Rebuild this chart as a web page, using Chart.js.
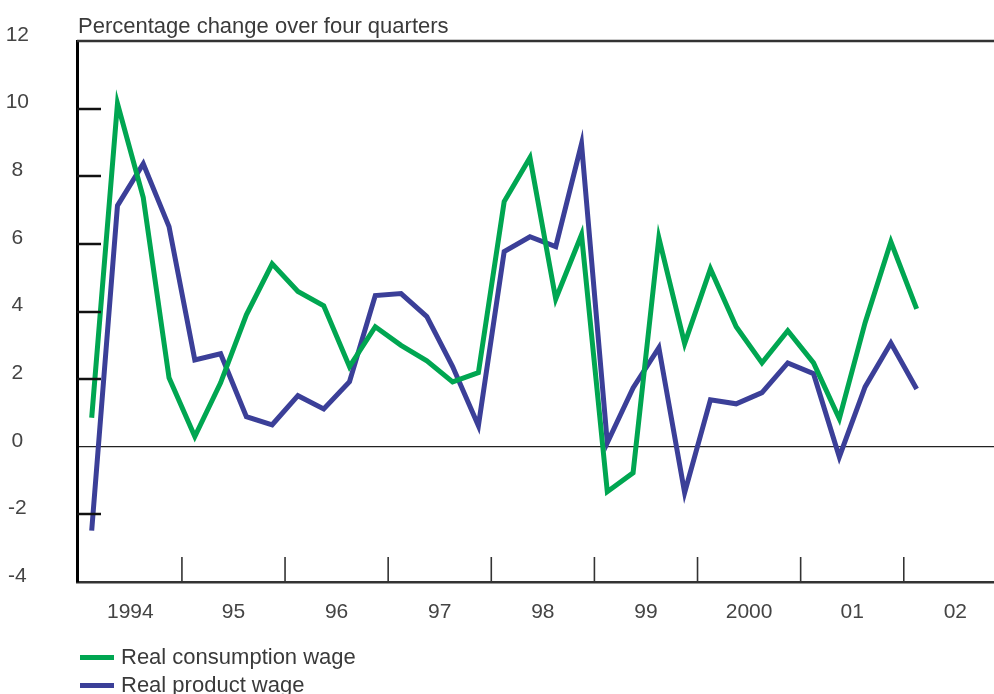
<!DOCTYPE html>
<html lang="en">
<head>
    <meta charset="UTF-8">
    <title>Real wages</title>
    <script src="https://cdn.jsdelivr.net/npm/chart.js"></script>
    <style>
        body { margin: 0; background: #fff; font-family: "Liberation Sans", Arial, sans-serif; color: #333; }
        #wrap { position: relative; width: 994px; height: 694px; overflow: hidden; }
        #title { position: absolute; left: 78px; top: 13px; font-size: 22px; line-height: 26px; color: #3a3a3a; }
        .leg { position: absolute; left: 80px; font-size: 22px; line-height: 26px; color: #3a3a3a; white-space: nowrap; }
        .leg span { display: inline-block; width: 34px; height: 5px; vertical-align: middle; margin-right: 7px; position: relative; top: -1px; }
    </style>
</head>
<body>
<div id="wrap">
    <canvas id="wageChart" width="994" height="694"></canvas>
    <div id="title">Percentage change over four quarters</div>
    <div class="leg" style="top:644px"><span style="background:#00a651"></span>Real consumption wage</div>
    <div class="leg" style="top:672px"><span style="background:#3b3f98"></span>Real product wage</div>
</div>
<script>
    // quarterly, 1994 Q1 .. 2002 Q1
    const quarters = [
        '1994 Q1', '1994 Q2', '1994 Q3', '1994 Q4',
        '1995 Q1', '1995 Q2', '1995 Q3', '1995 Q4',
        '1996 Q1', '1996 Q2', '1996 Q3', '1996 Q4',
        '1997 Q1', '1997 Q2', '1997 Q3', '1997 Q4',
        '1998 Q1', '1998 Q2', '1998 Q3', '1998 Q4',
        '1999 Q1', '1999 Q2', '1999 Q3', '1999 Q4',
        '2000 Q1', '2000 Q2', '2000 Q3', '2000 Q4',
        '2001 Q1', '2001 Q2', '2001 Q3', '2001 Q4',
        '2002 Q1'
    ];
    const consumptionWage = [
        0.86, 10.15, 7.37, 2.04,
        0.3, 1.89, 3.9, 5.41,
        4.59, 4.17, 2.37, 3.55,
        3.0, 2.54, 1.92, 2.19,
        7.25, 8.55, 4.37, 6.27,
        -1.33, -0.77, 6.18, 3.05,
        5.26, 3.55, 2.48, 3.43,
        2.48, 0.83, 3.67, 6.06,
        4.08
    ];
    const productWage = [
        -2.48, 7.13, 8.37, 6.51,
        2.57, 2.75, 0.89, 0.65,
        1.51, 1.12, 1.92, 4.47,
        4.53, 3.85, 2.37, 0.62,
        5.77, 6.21, 5.92, 8.96,
        0.12, 1.74, 2.93, -1.36,
        1.39, 1.27, 1.6, 2.48,
        2.16, -0.3, 1.77, 3.07,
        1.71
    ];
    const yearLabels = ['1994', '95', '96', '97', '98', '99', '2000', '01', '02'];
    const yTicks = [-4, -2, 0, 2, 4, 6, 8, 10, 12];
    const shortTicks = [-2, 2, 4, 6, 8, 10];

    const toPoints = arr => arr.map((v, i) => ({ x: i, y: v }));
    const yearCentres = yearLabels.map((_, k) => 1.5 + 4 * k);
    const yearBreaks = yearLabels.slice(1).map((_, k) => 3.5 + 4 * k);

    // inner tick marks, year separators and the top frame line
    const axisMarks = {
        id: 'axisMarks',
        afterDatasetsDraw(chart) {
            const { ctx, chartArea, scales } = chart;
            ctx.save();
            ctx.strokeStyle = '#111';
            ctx.lineWidth = 2.5;
            shortTicks.forEach(v => {
                const y = Math.round(scales.y.getPixelForValue(v));
                ctx.beginPath();
                ctx.moveTo(chartArea.left, y);
                ctx.lineTo(chartArea.left + 24, y);
                ctx.stroke();
            });
            ctx.strokeStyle = '#333';
            ctx.lineWidth = 1.6;
            yearBreaks.forEach(v => {
                const x = scales.x.getPixelForValue(v);
                ctx.beginPath();
                ctx.moveTo(x, chartArea.bottom);
                ctx.lineTo(x, chartArea.bottom - 25);
                ctx.stroke();
            });
            ctx.strokeStyle = '#333';
            ctx.lineWidth = 2.5;
            ctx.beginPath();
            ctx.moveTo(chartArea.left, chartArea.top);
            ctx.lineTo(chartArea.right, chartArea.top);
            ctx.stroke();
            ctx.restore();
        }
    };

    const tickFont = { family: '"Liberation Sans", Arial, sans-serif', size: 21 };

    new Chart(document.getElementById('wageChart').getContext('2d'), {
        type: 'line',
        data: {
            datasets: [{
                label: 'Real consumption wage',
                data: toPoints(consumptionWage),
                borderColor: '#00a651',
                borderWidth: 5,
                pointRadius: 0,
                tension: 0
            }, {
                label: 'Real product wage',
                data: toPoints(productWage),
                borderColor: '#3b3f98',
                borderWidth: 5,
                pointRadius: 0,
                tension: 0
            }]
        },
        options: {
            responsive: false,
            animation: false,
            layout: { padding: { top: 41, right: 0, left: 0, bottom: 0 } },
            plugins: { legend: { display: false }, tooltip: { enabled: false } },
            scales: {
                x: {
                    type: 'linear',
                    min: -0.57,
                    max: 35.0,
                    afterBuildTicks: scale => { scale.ticks = yearCentres.map(v => ({ value: v })); },
                    afterFit: scale => {
                        scale.height = 112;
                        scale.paddingLeft = 0;
                        scale.paddingRight = 0;
                    },
                    ticks: {
                        font: tickFont,
                        color: '#444',
                        padding: 18,
                        maxRotation: 0,
                        autoSkip: false,
                        callback: (v, i) => yearLabels[i]
                    },
                    grid: { display: false, drawTicks: false },
                    border: { display: true, color: '#333', width: 2.5 }
                },
                y: {
                    min: -4,
                    max: 12,
                    afterBuildTicks: scale => { scale.ticks = yTicks.map(v => ({ value: v })); },
                    afterFit: scale => {
                        scale.width = 77;
                        scale.paddingTop = 0;
                        scale.paddingBottom = 0;
                    },
                    ticks: {
                        font: tickFont,
                        color: '#444',
                        padding: 48,
                        crossAlign: 'center',
                        labelOffset: -6
                    },
                    grid: {
                        drawTicks: false,
                        color: c => (c.tick && c.tick.value === 0 ? '#222' : 'rgba(0,0,0,0)'),
                        lineWidth: 1.3
                    },
                    border: { display: true, color: '#000', width: 3 }
                }
            }
        },
        plugins: [axisMarks]
    });
</script>
</body>
</html>
